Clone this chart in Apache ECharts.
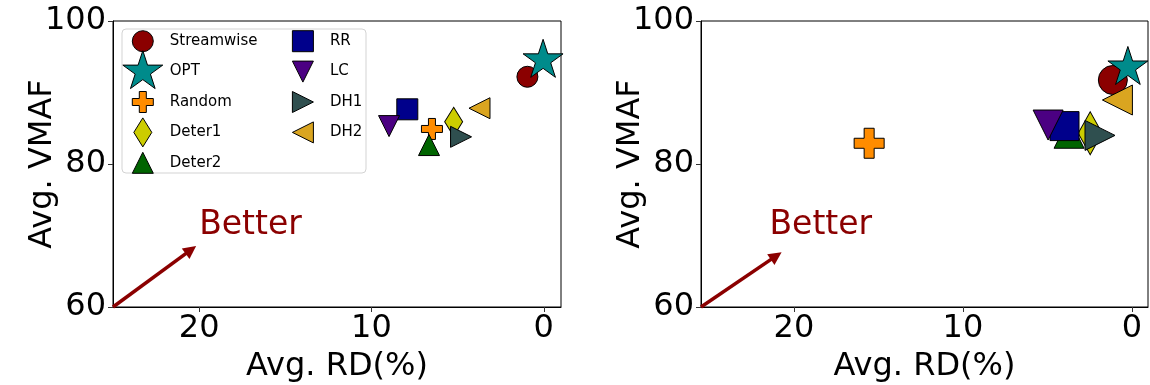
<!DOCTYPE html>
<html><head><meta charset="utf-8">
<script src="https://cdn.jsdelivr.net/npm/echarts@6/dist/echarts.min.js"></script>
<style>html,body{margin:0;padding:0;background:#fff}#c{width:1150px;height:385px}</style>
</head><body><div id="c"></div>
<script>
// ---------- data ----------
const methods = ['Streamwise','OPT','Random','Deter1','Deter2','RR','LC','DH1','DH2'];
const colors  = ['#8B0000','#008B8B','#FF8C00','#CCCC00','#006400','#00008B','#4B0082','#2F4F4F','#DAA520'];
const shapes  = ['circle','star','plus','diamond','triUp','square','triDown','triRight','triLeft'];
const leftRD    = [0.95, 0.04, 6.49, 5.23, 6.66, 7.92, 8.98, 4.80, 3.73];
const leftVMAF  = [92.2, 94.5, 84.9, 85.9, 82.65, 87.65, 85.3, 83.8, 87.8];
const rightRD   = [1.13, 0.24, 15.55, 2.47, 3.72, 3.99, 4.96, 1.89, 0.86];
const rightVMAF = [91.75, 93.5, 82.9, 84.3, 84.3, 85.3, 85.45, 84.0, 88.95];
const xTicks = [0, 10, 20];
const yTicks = [60, 80, 100];
const xLabel = 'Avg. RD(%)';
const yLabel = 'Avg. VMAF';
const noteText = 'Better';

// ---------- styling ----------
const FF = 'DejaVu Sans';
const leftSizes  = [21, 42, 21, [18, 29], 21, 21, 21, 21, 21];
const rightSizes = [29, 42, 30, [24, 43], 30, 29, 30, 30, 30];
const legendSizes = [21, 42, 21, [18, 29], 21, 21, 21, 21, 21];

function shapePath(type, cx, cy, w, h) {
  const x0 = cx - w / 2, y0 = cy - h / 2;
  const P = pts => 'M' + pts.map(p => (x0 + p[0] * w).toFixed(2) + ' ' + (y0 + p[1] * h).toFixed(2)).join(' L') + ' Z';
  switch (type) {
    case 'circle': { const r = w / 2; return `M${cx - r} ${cy} A${r} ${r} 0 1 1 ${cx + r} ${cy} A${r} ${r} 0 1 1 ${cx - r} ${cy} Z`; }
    case 'square': return P([[0,0],[1,0],[1,1],[0,1]]);
    case 'triUp': return P([[0.5,0],[1,1],[0,1]]);
    case 'triDown': return P([[0,0],[1,0],[0.5,1]]);
    case 'triLeft': return P([[0,0.5],[1,0],[1,1]]);
    case 'triRight': return P([[0,0],[1,0.5],[0,1]]);
    case 'diamond': return P([[0.5,0],[1,0.5],[0.5,1],[0,0.5]]);
    case 'plus': { const a = 1/3, b = 2/3; return P([[a,0],[b,0],[b,a],[1,a],[1,b],[b,b],[b,1],[a,1],[a,b],[0,b],[0,a],[a,a]]); }
    case 'star': {
      const R = w / 2, r = R * 0.381966, pts = [];
      for (let i = 0; i < 10; i++) {
        const ang = -Math.PI / 2 + i * Math.PI / 5, rad = i % 2 ? r : R;
        pts.push([cx + rad * Math.cos(ang), cy + rad * Math.sin(ang)]);
      }
      return 'M' + pts.map(p => p[0].toFixed(2) + ' ' + p[1].toFixed(2)).join(' L') + ' Z';
    }
  }
}
function seriesSymbol(type) { return 'path://M0 0 M100 100 ' + shapePath(type, 50, 50, 100, 100); }
function legendIcon(i) {
  const s = legendSizes[i]; const w = Array.isArray(s) ? s[0] : s, h = Array.isArray(s) ? s[1] : s;
  return 'path://M0 0 M44 44 ' + shapePath(shapes[i], 22, 22, w, h);
}

function annotation(start, end, textPos) {
  return {
    markLine: {
      silent: true, animation: false, symbol: ['none', 'triangle'], symbolSize: 13,
      lineStyle: { color: '#8B0000', width: 3.5, type: 'solid', opacity: 1 }, label: { show: false },
      emphasis: { disabled: true },
      data: [[{ coord: start }, { coord: end }]]
    },
    markPoint: {
      silent: true, animation: false, symbol: 'circle', symbolSize: 0,
      label: { show: true, position: 'inside', formatter: noteText, fontSize: 33, color: '#8B0000',
               align: 'left', verticalAlign: 'middle', fontFamily: FF },
      data: [{ coord: textPos }]
    }
  };
}

function makeSeries(idx, xs, ys, sizes, ann) {
  return methods.map((m, i) => Object.assign({
    type: 'scatter', name: m, xAxisIndex: idx, yAxisIndex: idx,
    data: [[xs[i], ys[i]]],
    symbol: seriesSymbol(shapes[i]), symbolSize: sizes[i], symbolKeepAspect: false,
    itemStyle: { color: colors[i], borderColor: '#000', borderWidth: 1, opacity: 1 },
    emphasis: { disabled: true }, silent: true, z: 2 + i * 0.01
  }, i === 0 ? ann : {}));
}

function xAxisCfg(gi, min, max) {
  return {
    type: 'value', gridIndex: gi, min: min, max: max, inverse: true,
    name: xLabel, nameLocation: 'middle', nameGap: 44, nameMoveOverlap: false,
    nameTextStyle: { fontSize: 32, color: '#000', fontFamily: FF },
    axisLine: { show: true, onZero: false, lineStyle: { color: '#000', width: 1 } },
    axisTick: { show: true, length: 5, customValues: xTicks, lineStyle: { color: '#333' } },
    axisLabel: { customValues: xTicks, fontSize: 32, color: '#000', margin: 6, fontFamily: FF },
    splitLine: { show: false }
  };
}
function yAxisCfg(gi) {
  return {
    type: 'value', gridIndex: gi, min: 60, max: 100, interval: 20,
    name: yLabel, nameLocation: 'middle', nameGap: 54, nameRotate: 90, nameMoveOverlap: false,
    nameTextStyle: { fontSize: 32, color: '#000', fontFamily: FF },
    axisLine: { show: true, onZero: false, lineStyle: { color: '#000', width: 1 } },
    axisTick: { show: true, length: 5, customValues: yTicks, lineStyle: { color: '#333' } },
    axisLabel: { customValues: yTicks, fontSize: 32, color: '#000', margin: 7, fontFamily: FF },
    splitLine: { show: false }
  };
}

const chart = echarts.init(document.getElementById('c'), null, { renderer: 'canvas' });
const legendText = { fontSize: 15, color: '#000', fontFamily: FF };
chart.setOption({
  animation: false,
  backgroundColor: '#fff',
  grid: [
    { left: 113, top: 21, width: 448, height: 286, show: true, borderColor: '#000', borderWidth: 1, containLabel: false, outerBoundsMode: 'none' },
    { left: 701, top: 21, width: 447, height: 286, show: true, borderColor: '#000', borderWidth: 1, containLabel: false, outerBoundsMode: 'none' }
  ],
  xAxis: [xAxisCfg(0, -1, 25), xAxisCfg(1, -0.95, 25.5)],
  yAxis: [yAxisCfg(0), yAxisCfg(1)],
  legend: [
    { orient: 'vertical', left: 120.3, top: 18.7, padding: 0, itemWidth: 44, itemHeight: 44, itemGap: -14.6,
      selectedMode: false, textStyle: legendText, itemStyle: { borderColor: '#000', borderWidth: 1 },
      data: methods.slice(0, 5).map((m, i) => ({ name: m, icon: legendIcon(i) })) },
    { orient: 'vertical', left: 280.4, top: 18.7, padding: 0, itemWidth: 44, itemHeight: 44, itemGap: -14.6,
      selectedMode: false, textStyle: legendText, itemStyle: { borderColor: '#000', borderWidth: 1 },
      data: methods.slice(5).map((m, i) => ({ name: m, icon: legendIcon(i + 5) })) }
  ],
  graphic: [
    { type: 'rect', z: 3, silent: true, shape: { x: 122, y: 29, width: 244, height: 144, r: 4 },
      style: { fill: 'rgba(255,255,255,0.8)', stroke: '#d3d3d3', lineWidth: 1 } }
  ],
  series: [
    ...makeSeries(0, leftRD, leftVMAF, leftSizes, annotation([25, 60], [20.48, 68.0], [20.0, 71.4])),
    ...makeSeries(1, rightRD, rightVMAF, rightSizes, annotation([25.5, 60], [21.05, 67.15], [21.45, 71.4]))
  ]
});
</script></body></html>
